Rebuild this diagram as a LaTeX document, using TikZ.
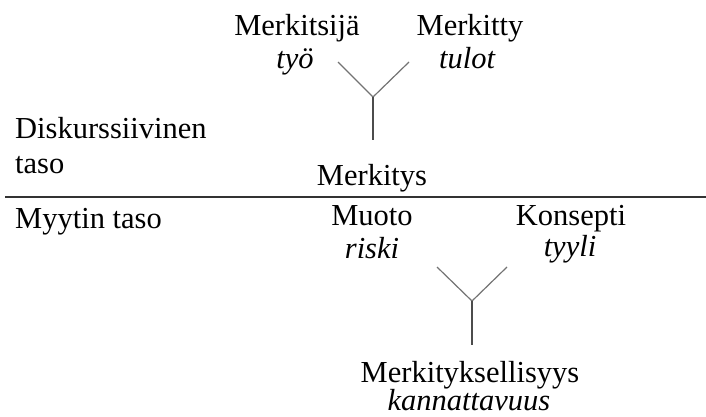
\documentclass[tikz,border=0pt]{standalone}
\usepackage{fontspec}
\setmainfont{Liberation Serif}
\begin{document}
\begin{tikzpicture}[x=1pt,y=-1pt,
  lbl/.style={anchor=base,inner sep=0pt,font=\fontsize{30.5}{35}\selectfont},
  itl/.style={anchor=base,inner sep=0pt,font=\fontsize{30.5}{35}\selectfont\itshape},
  lft/.style={anchor=base west,inner sep=0pt,font=\fontsize{30.5}{35}\selectfont},
  arm/.style={draw=black!55,line width=1.2pt},
  stem/.style={draw=black!70,line width=1.2pt},
  rule/.style={draw=black!80,line width=1.3pt}]
\useasboundingbox (0,0) rectangle (706,416);
% upper level
\node[lbl] (sr) at (297,35) {Merkitsijä};
\node[itl] (srt) at (295,68) {työ};
\node[lbl] (sd) at (470,35) {Merkitty};
\node[itl] (sdt) at (467,68) {tulot};
\node[lbl] (sg) at (372,185) {Merkitys};
\coordinate (a1) at (338,62);
\coordinate (b1) at (409,62);
\coordinate (j1) at (373,97);
\coordinate (e1) at (373,140);
\draw[arm] (a1) -- (j1) -- (b1);
\draw[stem] (j1) -- (e1);
% labels on left
\node[lft] (dk) at (15,138) {Diskurssiivinen};
\node[lft] (ts) at (15,173) {taso};
\node[lft] (mt) at (15,228) {Myytin taso};
% separating rule
\coordinate (r0) at (5,197);
\coordinate (r1) at (706,197);
\draw[rule] (r0) -- (r1);
% lower level
\node[lbl] (mu) at (372,225) {Muoto};
\node[itl] (mut) at (372,258) {riski};
\node[lbl] (ko) at (571,225) {Konsepti};
\node[itl] (kot) at (570,256) {tyyli};
\node[lbl] (mk) at (470,382) {Merkityksellisyys};
\node[itl] (mkt) at (469,410) {kannattavuus};
\coordinate (a2) at (437,267);
\coordinate (b2) at (507,267);
\coordinate (j2) at (472,301);
\coordinate (e2) at (472,345);
\draw[arm] (a2) -- (j2) -- (b2);
\draw[stem] (j2) -- (e2);
\end{tikzpicture}
\end{document}
